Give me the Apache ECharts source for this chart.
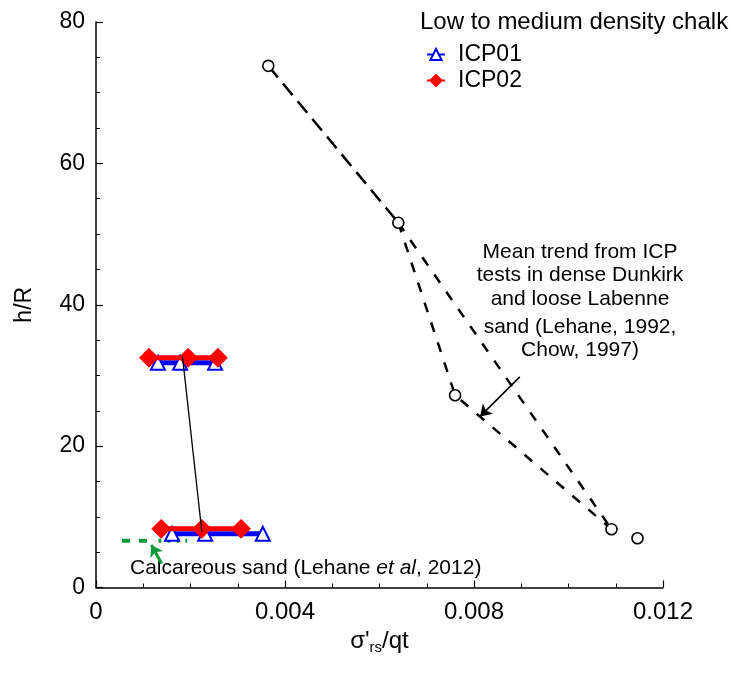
<!DOCTYPE html>
<html>
<head>
<meta charset="utf-8">
<script src="https://cdn.jsdelivr.net/npm/echarts@6/dist/echarts.min.js"></script>
<style>html,body{margin:0;padding:0;background:#fff;}#c{width:732px;height:673px;}</style>
</head>
<body>
<div id="c"></div>
<script>
// ---- data ----
var xTicks = [0, 0.004, 0.008, 0.012];
var yTicks = [0, 20, 40, 60, 80];
var icp01Upper = [[0.00131, 31.8], [0.00178, 31.8], [0.00252, 31.8]];
var icp01Lower = [[0.00161, 7.6], [0.00231, 7.6], [0.00353, 7.6]];
var icp02Upper = [[0.00112, 32.5], [0.00195, 32.5], [0.00258, 32.5]];
var icp02Lower = [[0.00138, 8.3], [0.00224, 8.3], [0.00307, 8.3]];
var connector = [[0.00183, 32.7], [0.00224, 7.9]];
var trendPoints = [[0.003646, 73.8], [0.006398, 51.6], [0.0076, 27.2], [0.01091, 8.25], [0.01146, 6.97]];
var trendSeg1 = [[0.003646, 73.8], [0.006398, 51.6]];
var trendSeg2 = [[0.006398, 51.6], [0.0076, 27.2], [0.01091, 8.25]];
var trendSeg3 = [[0.006398, 51.6], [0.01091, 8.25]];
var calcDashed = [[0.00055, 6.6], [0.00122, 6.6]];
var calcDotted = [[0.00132, 6.6], [0.00193, 6.6]];
var greenArrow = [[0.00139, 3.4], [0.00117, 6.0]];
var blackArrow = [[0.00897, 29.8], [0.00813, 24.2]];
var annotationLines = ['Mean trend from ICP', 'tests in dense Dunkirk', 'and loose Labenne', 'sand (Lehane, 1992,', 'Chow, 1997)'];

var FONT = 'Liberation Sans, Arial, sans-serif';
var chart = echarts.init(document.getElementById('c'));
var blue = '#0000ff', red = '#ff0000', green = '#119a3a';

function lineSeries(name, data, color, width, symbol, size, z) {
  return {
    name: name, type: 'line', data: data, z: z || 3,
    lineStyle: {color: color, width: width},
    itemStyle: {color: color, borderColor: color, borderWidth: 2},
    symbol: symbol, symbolSize: size, showSymbol: true,
    animation: false, silent: true
  };
}
function dashSeries(data, dash, width, color) {
  return {
    type: 'line', data: data, symbol: 'none', z: 2,
    lineStyle: {color: color || '#000', width: width || 2, type: dash},
    animation: false, silent: true
  };
}

var annY = [252, 275, 299, 327, 350];
var graphics = [
  {type: 'text', left: 420, top: 10, style: {text: 'Low to medium density chalk', font: '24px ' + FONT, fill: '#000'}},
  {type: 'text', x: 130, y: 558, style: {
    text: '{n|Calcareous sand (Lehane }{i|et al}{n|, 2012)}',
    rich: {n: {fontSize: 21, fontFamily: FONT, fill: '#000'}, i: {fontSize: 21, fontFamily: FONT, fontStyle: 'italic', fill: '#000'}}
  }}
];
annotationLines.forEach(function (t, i) {
  graphics.push({type: 'text', x: 580, y: annY[i], style: {text: t, font: '21px ' + FONT, fill: '#000', textAlign: 'center', textVerticalAlign: 'middle'}});
});

var option = {
  backgroundColor: '#fff',
  textStyle: {fontFamily: FONT},
  grid: {left: 96, right: 69, top: 22, bottom: 85.5, containLabel: false},
  xAxis: {
    type: 'value', min: xTicks[0], max: xTicks[xTicks.length - 1], interval: 0.004,
    axisLine: {lineStyle: {color: '#000', width: 1.5}},
    axisTick: {inside: true, length: 7, lineStyle: {color: '#000', width: 1.2}},
    minorTick: {show: true, splitNumber: 4, length: 4, lineStyle: {color: '#000', width: 1}},
    splitLine: {show: false},
    axisLabel: {color: '#000', fontSize: 24, margin: 13, fontFamily: FONT,
      formatter: function (v) { return v === 0 ? '0' : v.toFixed(3); }},
    name: "{a|σ'}{b|rs}{a|/qt}",
    nameLocation: 'middle', nameGap: 36,
    nameTextStyle: {rich: {
      a: {fontSize: 24, color: '#000', fontFamily: FONT},
      b: {fontSize: 15, color: '#000', fontFamily: FONT, padding: [12, 0, 0, 0]}
    }}
  },
  yAxis: {
    type: 'value', min: yTicks[0], max: yTicks[yTicks.length - 1], interval: 20,
    axisLine: {lineStyle: {color: '#000', width: 1.5}},
    axisTick: {inside: true, length: 7, lineStyle: {color: '#000', width: 1.2}},
    minorTick: {show: true, splitNumber: 4, length: 4, lineStyle: {color: '#000', width: 1}},
    splitLine: {show: false},
    axisLabel: {color: '#000', fontSize: 23, margin: 11, fontFamily: FONT},
    name: 'h/R', nameLocation: 'middle', nameGap: 60,
    nameTextStyle: {fontSize: 23, color: '#000', fontFamily: FONT}
  },
  legend: {
    orient: 'vertical', left: 421, top: 38, itemGap: 3,
    itemWidth: 18, itemHeight: 14,
    data: ['ICP01', 'ICP02'],
    textStyle: {fontSize: 23, color: '#000', fontFamily: FONT, padding: [0, 0, 0, 8]}
  },
  graphic: graphics,
  series: [
    dashSeries(calcDashed, [8, 9], 4, green),
    dashSeries(calcDotted, [3, 6], 4, green),
    dashSeries(trendSeg1, [15, 8], 2.5),
    dashSeries(trendSeg2, [10, 11], 2.5),
    dashSeries(trendSeg3, [10, 11], 2.5),
    {
      type: 'scatter', data: trendPoints, symbol: 'circle', symbolSize: 11, z: 4,
      itemStyle: {color: '#fff', borderColor: '#000', borderWidth: 1.6, opacity: 1}, animation: false, silent: true
    },
    {
      type: 'line', data: connector, symbol: 'none', z: 6,
      lineStyle: {color: '#000', width: 1.3}, animation: false, silent: true,
      markLine: {
        silent: true, animation: false, symbol: ['none', 'arrow'], symbolSize: 11,
        label: {show: false},
        data: [
          [{coord: blackArrow[0], lineStyle: {color: '#000', width: 1.6, type: 'solid'}}, {coord: blackArrow[1]}],
          [{coord: greenArrow[0], lineStyle: {color: green, width: 3, type: 'solid'}, itemStyle: {color: green}}, {coord: greenArrow[1], itemStyle: {color: green}}]
        ]
      }
    },
    lineSeries('ICP01', icp01Upper, blue, 5, 'emptyTriangle', 14, 3),
    lineSeries('ICP01', icp01Lower, blue, 5, 'emptyTriangle', 14, 3),
    lineSeries('ICP02', icp02Upper, red, 5, 'diamond', 17, 5),
    lineSeries('ICP02', icp02Lower, red, 5, 'diamond', 17, 5)
  ]
};
chart.setOption(option);
</script>
</body>
</html>
